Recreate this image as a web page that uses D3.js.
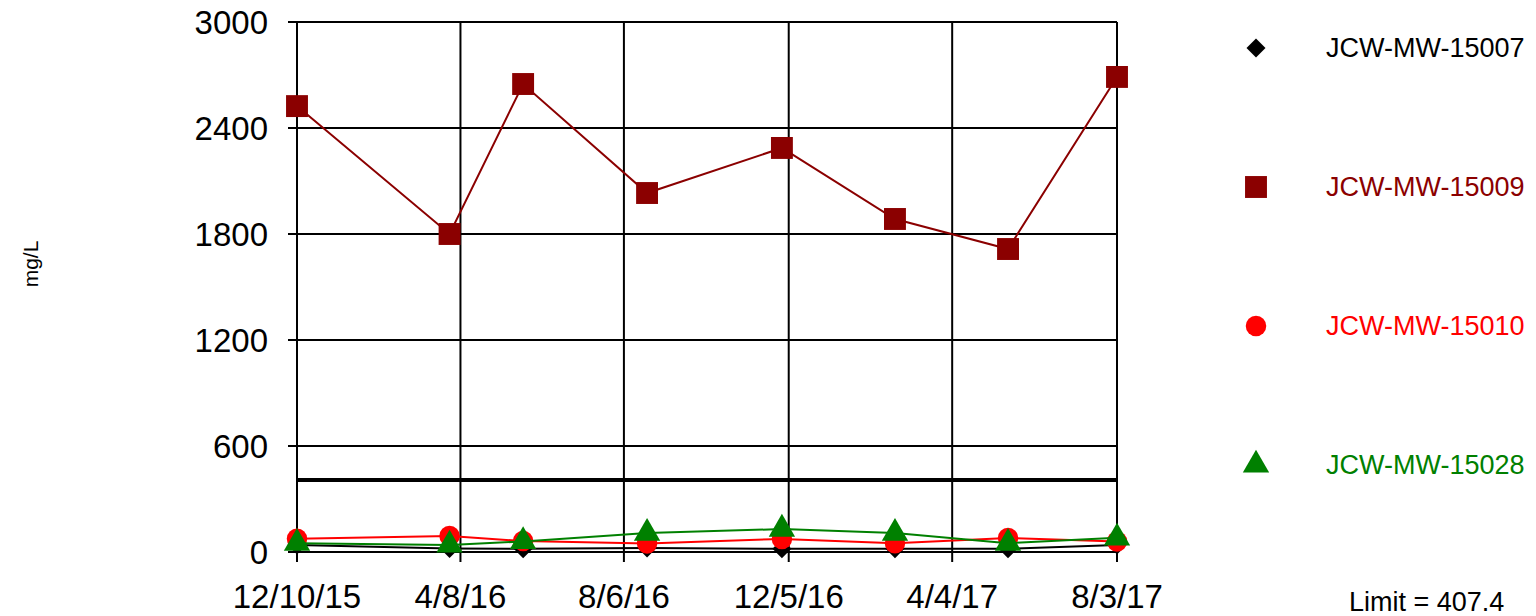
<!DOCTYPE html>
<html>
<head>
<meta charset="utf-8">
<script src="https://d3js.org/d3.v7.min.js"></script>
<style>
  body { margin: 0; background: #fff; }
  text { font-family: "Liberation Sans", Arial, sans-serif; }
</style>
</head>
<body>
<div id="chart"></div>
<script>
// sample dates (m/d/yy)
var dates = ["12/10/15", "3/31/16", "5/24/16", "8/23/16", "11/30/16", "2/21/17", "5/15/17", "8/3/17"];
var tickDates = ["12/10/15", "4/8/16", "8/6/16", "12/5/16", "4/4/17", "8/3/17"];
var yTicks = [0, 600, 1200, 1800, 2400, 3000];
var limit = 407.4;

var mw15007 = [40, 20, 18, 22, 18, 18, 18, 40];
var mw15009 = [2524, 1800, 2649, 2032, 2287, 1885, 1715, 2689];
var mw15010 = [75, 90, 62, 48, 74, 50, 79, 60];
var mw15028 = [50, 40, 60, 107, 130, 107, 50, 80];

var seriesNames = ["JCW-MW-15007", "JCW-MW-15009", "JCW-MW-15010", "JCW-MW-15028"];
var seriesColors = ["#000000", "#8b0000", "#ff0000", "#008000"];

var parse = d3.utcParse("%m/%d/%y");
function fmt(d) {
  return (d.getUTCMonth() + 1) + "/" + d.getUTCDate() + "/" + d3.utcFormat("%y")(d);
}

var series = [
  { name: seriesNames[0], color: seriesColors[0], values: mw15007, shape: d3.symbolSquare, size: 180, rot: 45 },
  { name: seriesNames[1], color: seriesColors[1], values: mw15009, shape: d3.symbolSquare, size: 480, rot: 0 },
  { name: seriesNames[2], color: seriesColors[2], values: mw15010, shape: d3.symbolCircle, size: 330, rot: 0 },
  { name: seriesNames[3], color: seriesColors[3], values: mw15028, shape: d3.symbolTriangle, size: 300, rot: 0 }
];

var W = 1536, H = 616;
var mLeft = 297, mRight = 1117, mTop = 22, mBottom = 552;

var svg = d3.select("#chart").append("svg")
  .attr("width", W).attr("height", H);

var x = d3.scaleUtc()
  .domain([parse(tickDates[0]), parse(tickDates[tickDates.length - 1])])
  .range([mLeft, mRight]);
var y = d3.scaleLinear().domain([0, 3000]).range([mBottom, mTop]);

// grid
svg.append("g").selectAll("line")
  .data(yTicks).enter().append("line")
  .attr("x1", mLeft - 9).attr("x2", mRight)
  .attr("y1", function(d) { return y(d); }).attr("y2", function(d) { return y(d); })
  .attr("stroke", "#000").attr("stroke-width", 2);
svg.append("g").selectAll("line")
  .data(tickDates).enter().append("line")
  .attr("x1", function(d) { return x(parse(d)); }).attr("x2", function(d) { return x(parse(d)); })
  .attr("y1", mTop).attr("y2", mBottom + 10)
  .attr("stroke", "#000").attr("stroke-width", 2);

// y axis labels
svg.append("g").selectAll("text")
  .data(yTicks).enter().append("text")
  .attr("x", 268).attr("y", function(d) { return y(d) + 12; })
  .attr("text-anchor", "end").attr("font-size", 33)
  .text(function(d) { return d; });

// x axis labels
svg.append("g").selectAll("text")
  .data(tickDates).enter().append("text")
  .attr("x", function(d) { return x(parse(d)); }).attr("y", 608)
  .attr("text-anchor", "middle").attr("font-size", 33)
  .text(function(d) { return fmt(parse(d)); });

// y title
svg.append("text")
  .attr("transform", "translate(38,264) rotate(-90)")
  .attr("text-anchor", "middle").attr("font-size", 21)
  .text("mg/L");

// limit line
svg.append("line")
  .attr("x1", mLeft).attr("x2", mRight)
  .attr("y1", y(limit)).attr("y2", y(limit))
  .attr("stroke", "#000").attr("stroke-width", 4);

var line = d3.line()
  .x(function(d, i) { return x(parse(dates[i])); })
  .y(function(d) { return y(d); });

series.forEach(function(s) {
  svg.append("path")
    .datum(s.values)
    .attr("d", line)
    .attr("fill", "none")
    .attr("stroke", s.color)
    .attr("stroke-width", 2);
  svg.append("g").selectAll("path")
    .data(s.values).enter().append("path")
    .attr("d", d3.symbol().type(s.shape).size(s.size))
    .attr("transform", function(d, i) {
      return "translate(" + x(parse(dates[i])) + "," + y(d) + ") rotate(" + s.rot + ")";
    })
    .attr("fill", s.color);
});

// legend
var legend = svg.append("g").selectAll("g")
  .data(series).enter().append("g")
  .attr("transform", function(d, i) { return "translate(0," + (48 + i * 139) + ")"; });
legend.append("path")
  .attr("d", function(d) { return d3.symbol().type(d.shape).size(d.size)(); })
  .attr("transform", function(d) { return "translate(1256,0) rotate(" + d.rot + ")"; })
  .attr("fill", function(d) { return d.color; });
legend.append("text")
  .attr("x", 1326).attr("y", 9)
  .attr("font-size", 27)
  .attr("fill", function(d) { return d.color; })
  .text(function(d) { return d.name; });

svg.append("text")
  .attr("x", 1349).attr("y", 611)
  .attr("font-size", 27)
  .text("Limit = " + limit);
</script>
</body>
</html>
